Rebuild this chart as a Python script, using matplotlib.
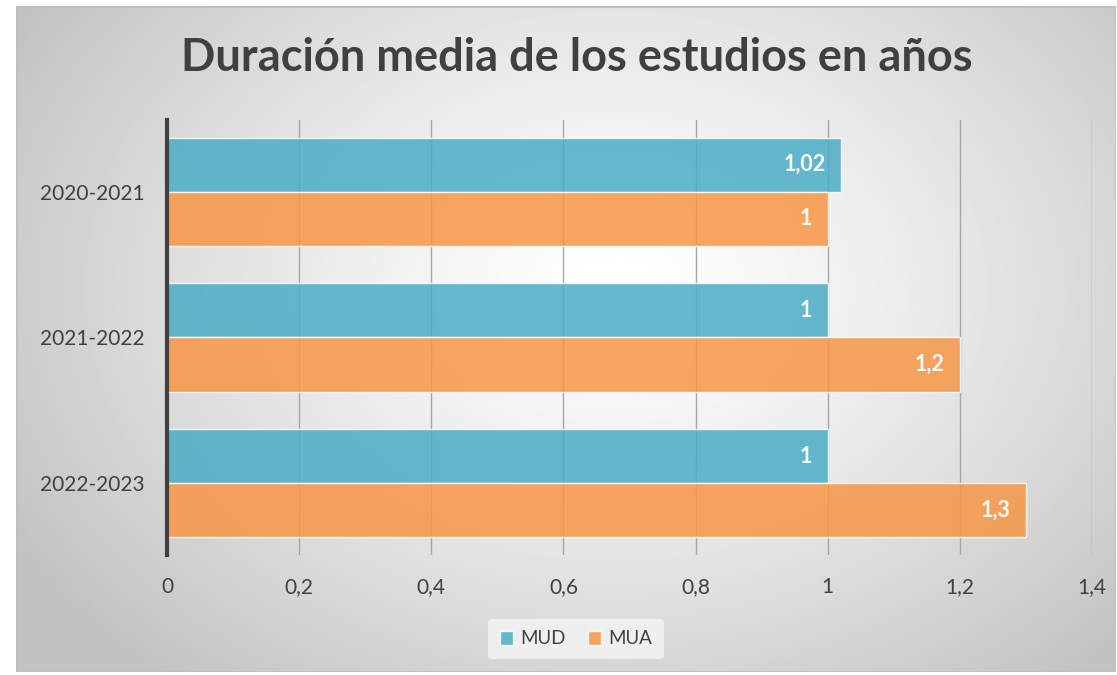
import matplotlib.pyplot as plt
import numpy as np
from matplotlib.patches import Rectangle

plt.rcParams["font.family"] = ["Lato", "DejaVu Sans"]

years = ["2020-2021", "2021-2022", "2022-2023"]
mud = [1.02, 1, 1]
mua = [1, 1.2, 1.3]
x_ticks = [0, 0.2, 0.4, 0.6, 0.8, 1, 1.2, 1.4]
series_names = ["MUD", "MUA"]
series_colors = ["#4bacc6", "#f79646"]
title = "Duración media de los estudios en años"

W, H = 1117, 675


def comma(value):
    return f"{value:g}".replace(".", ",")


fig = plt.figure(figsize=(W / 100, H / 100), dpi=100)

# radial gradient background inside the chart frame
bg = fig.add_axes([16 / W, 3 / H, (1116 - 16) / W, (669 - 3) / H], zorder=-2)
gx, gy = np.meshgrid(np.linspace(0, 1100, 400), np.linspace(0, 666, 250))
dist = np.sqrt(((gx - 600) / 700) ** 2 + ((gy - 280) / 520) ** 2)
shade = 1.0 - 0.24 * np.clip(dist, 0, 1) ** 1.3
bg.imshow(shade, cmap="gray", vmin=0, vmax=1, aspect="auto",
          extent=[0, 1, 0, 1], origin="upper")
bg.add_patch(Rectangle((0, 0), 1, 1, transform=bg.transAxes, fill=False,
                       edgecolor="#bfbfbf", linewidth=2))
bg.set_axis_off()

ax = fig.add_axes([167 / W, 1 - 555 / H, (1092 - 167) / W, (555 - 120) / H])
ax.patch.set_alpha(0)

pos = np.arange(len(years))
h = 0.37
for offset, vals, name, col in [(-h / 2, mud, series_names[0], series_colors[0]),
                                 (h / 2, mua, series_names[1], series_colors[1])]:
    bars = ax.barh(pos + offset, vals, height=h, color=col, alpha=0.85,
                   edgecolor=(1, 1, 1, 0.5), linewidth=1, label=name, zorder=3)
    for b, v in zip(bars, vals):
        ax.text(v - 0.023, b.get_y() + b.get_height() / 2, comma(v),
                ha="right", va="center", color="white", fontsize=15.5,
                fontweight="bold", zorder=4)

ax.set_xlim(0, 1.4)
ax.set_ylim(2.49, -0.49)
ax.set_xticks(x_ticks)
ax.set_xticklabels([comma(t) for t in x_ticks])
ax.set_yticks(pos)
ax.set_yticklabels(years)
ax.tick_params(axis="both", length=0, labelsize=15, colors="#404040")
ax.tick_params(axis="x", pad=16)
ax.tick_params(axis="y", pad=16)
ax.grid(axis="x", color="#a6a6a6", linewidth=1, zorder=2)
ax.set_axisbelow(False)
for s in ["top", "right", "bottom"]:
    ax.spines[s].set_visible(False)
ax.spines["left"].set_color("#404040")
ax.spines["left"].set_linewidth(3)
ax.spines["left"].set_zorder(5)

fig.text(577 / W, 1 - 58 / H, title, ha="center", va="center",
         fontsize=32.5, fontweight="bold", color="#404040")

leg = fig.legend(loc="center", bbox_to_anchor=(576 / W, 1 - 639 / H), ncol=2,
                 frameon=True, fontsize=13.5, handlelength=0.7, handleheight=0.7,
                 handletextpad=0.4, columnspacing=1.2, borderpad=0.6)
leg.get_frame().set_facecolor("#f5f5f5")
leg.get_frame().set_edgecolor("none")
leg.get_frame().set_alpha(0.8)
for t in leg.get_texts():
    t.set_color("#404040")

fig.savefig("out.png", dpi=100)
